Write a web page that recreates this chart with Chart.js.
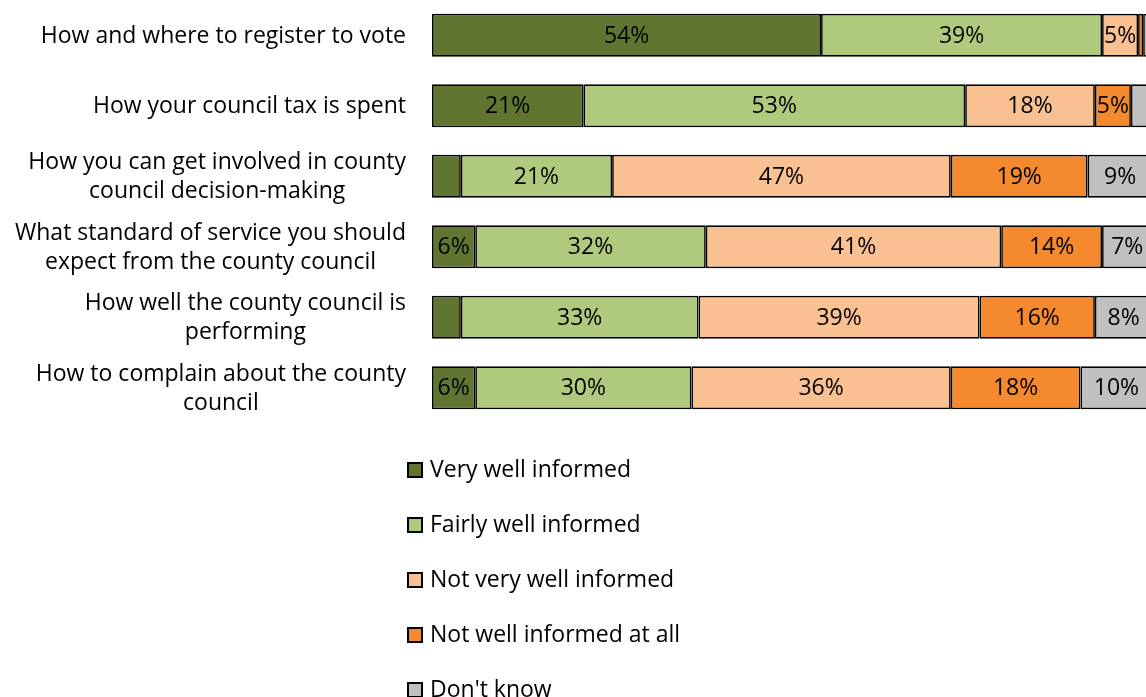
<!DOCTYPE html>
<html>
<head>
<meta charset="utf-8">
<script src="https://cdn.jsdelivr.net/npm/chart.js@4"></script>
<style>
  html, body { margin: 0; padding: 0; background: #fff; overflow: hidden; }
  #wrap { width: 1160px; height: 697px; position: relative; }
</style>
</head>
<body>
<div id="wrap"><canvas id="informedChart"></canvas></div>
<script>
const categories = [
  ['How and where to register to vote'],
  ['How your council tax is spent'],
  ['How you can get involved in county', 'council decision-making'],
  ['What standard of service you should', 'expect from the county council'],
  ['How well the county council is', 'performing'],
  ['How to complain about the county', 'council']
];
const seriesNames = ['Very well informed', 'Fairly well informed', 'Not very well informed', 'Not well informed at all', "Don't know"];
const veryWell = [54, 21, 4, 6, 4, 6];
const fairlyWell = [39, 53, 21, 32, 33, 30];
const notVeryWell = [5, 18, 47, 41, 39, 36];
const notAtAll = [0.7, 5, 19, 14, 16, 18];
const dontKnow = [1.3, 3, 9, 7, 8, 10];
const colours = ['#5f7530', '#afca7c', '#f9c091', '#f4892e', '#c0c0c0'];

const FONT = '23px "Open Sans"';

// y-axis labels: single lines right aligned, wrapped lines centred as a block
const categoryLabels = {
  id: 'categoryLabels',
  afterDraw(chart) {
    const ctx = chart.ctx;
    const y = chart.scales.y;
    ctx.save();
    ctx.font = FONT;
    ctx.fillStyle = '#000';
    ctx.textBaseline = 'middle';
    ctx.textAlign = 'center';
    categories.forEach((lines, i) => {
      const cy = y.getPixelForValue(i) + 1;
      const w = Math.max(...lines.map(l => ctx.measureText(l).width));
      const cx = 406 - w / 2;
      lines.forEach((line, j) => {
        ctx.fillText(line, cx, cy + (j - (lines.length - 1) / 2) * 29);
      });
    });
    ctx.restore();
  }
};

// percentage labels inside segments that are wide enough
const segmentLabels = {
  id: 'segmentLabels',
  afterDatasetsDraw(chart) {
    const ctx = chart.ctx;
    ctx.save();
    ctx.font = FONT;
    ctx.fillStyle = '#000';
    ctx.textAlign = 'center';
    ctx.textBaseline = 'middle';
    chart.data.datasets.forEach((ds, di) => {
      chart.getDatasetMeta(di).data.forEach((bar, i) => {
        const v = ds.data[i];
        if (v < 5) return;
        const p = bar.getCenterPoint();
        ctx.fillText(v + '%', p.x, p.y + 1);
      });
    });
    ctx.restore();
  }
};

// vertical legend under the bars
const stackedLegend = {
  id: 'stackedLegend',
  afterDraw(chart) {
    const ctx = chart.ctx;
    ctx.save();
    ctx.font = FONT;
    ctx.textBaseline = 'middle';
    ctx.textAlign = 'left';
    chart.data.datasets.forEach((ds, i) => {
      const cy = 470 + i * 55;
      ctx.fillStyle = ds.backgroundColor;
      ctx.fillRect(408, cy - 7, 14, 14);
      ctx.strokeStyle = '#000';
      ctx.lineWidth = 2;
      ctx.strokeRect(408, cy - 7, 14, 14);
      ctx.fillStyle = '#000';
      ctx.fillText(ds.label, 430, cy);
    });
    ctx.restore();
  }
};

const series = [veryWell, fairlyWell, notVeryWell, notAtAll, dontKnow];

new Chart(document.getElementById('informedChart'), {
  type: 'bar',
  data: {
    labels: categories.map(l => l.join(' ')),
    datasets: series.map((data, i) => ({
      label: seriesNames[i],
      data: data,
      backgroundColor: colours[i],
      borderColor: '#000',
      borderWidth: 1.7,
      borderSkipped: false,
      barPercentage: 0.61,
      categoryPercentage: 1
    }))
  },
  options: {
    indexAxis: 'y',
    responsive: true,
    maintainAspectRatio: false,
    animation: false,
    layout: { padding: { left: 432, right: 7.5, top: 0, bottom: 274 } },
    scales: {
      x: { stacked: true, min: 0, max: 100, display: false },
      y: { stacked: true, display: false }
    },
    plugins: {
      legend: { display: false },
      tooltip: { enabled: false }
    }
  },
  plugins: [categoryLabels, segmentLabels, stackedLegend]
});
</script>
</body>
</html>
